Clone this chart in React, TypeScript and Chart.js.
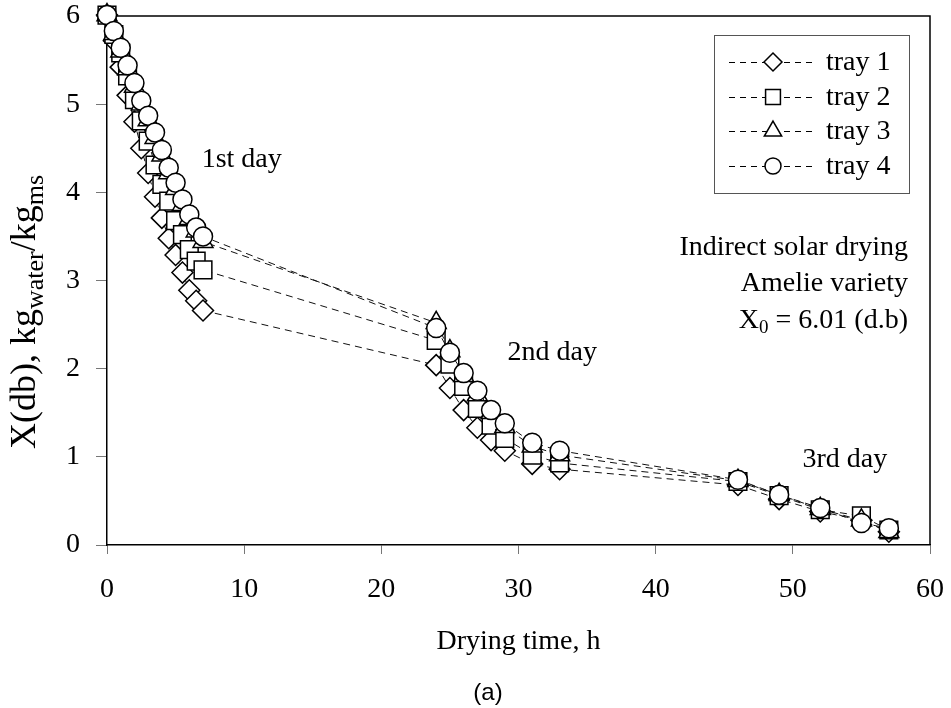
import React, { useEffect, useRef } from 'react';
import { Chart, registerables } from 'chart.js';

Chart.register(...registerables);

// ---- data ----
const times = [
  0, 0.5, 1, 1.5, 2, 2.5, 3, 3.5, 4, 4.5, 5, 5.5, 6, 6.5, 7,
  24, 25, 26, 27, 28, 29, 31, 33,
  46, 49, 52, 55, 57,
];
const tray1 = [
  6.01, 5.72, 5.42, 5.1, 4.8, 4.5, 4.22, 3.95, 3.71, 3.48, 3.29, 3.09, 2.89, 2.77, 2.66,
  2.04, 1.78, 1.53, 1.33, 1.19, 1.07, 0.92, 0.86,
  0.68, 0.52, 0.38, 0.28, 0.15,
];
const tray2 = [
  6.01, 5.79, 5.58, 5.32, 5.05, 4.81, 4.58, 4.31, 4.09, 3.9, 3.68, 3.52, 3.35, 3.22, 3.12,
  2.32, 2.05, 1.8, 1.55, 1.36, 1.21, 1.02, 0.93,
  0.72, 0.56, 0.4, 0.33, 0.17,
];
const tray3 = [
  6.01, 5.8, 5.6, 5.4, 5.2, 5.0, 4.82, 4.62, 4.42, 4.22, 4.04, 3.86, 3.7, 3.56, 3.44,
  2.52, 2.2, 1.92, 1.7, 1.5, 1.34, 1.12, 1.02,
  0.73, 0.57, 0.41, 0.28, 0.15,
];
const tray4 = [
  6.01, 5.83, 5.64, 5.44, 5.24, 5.04, 4.87, 4.68, 4.48, 4.28, 4.11, 3.92, 3.75, 3.6, 3.5,
  2.46, 2.18, 1.95, 1.75, 1.53, 1.38, 1.16, 1.07,
  0.74, 0.57, 0.42, 0.25, 0.19,
];
const seriesNames = ['tray 1', 'tray 2', 'tray 3', 'tray 4'];
const xTickStep = 10;
const yTickStep = 1;
const xRange = [0, 60];
const yRange = [0, 6];

const W = 951;
const H = 708;
const SERIF = '"Liberation Serif", "Times New Roman", serif';
const SANS = '"Liberation Sans", Arial, sans-serif';

const styles = ['rectRot', 'rect', 'triangle', 'circle'] as const;
const radii = [10.5, 12.5, 11.5, 9.5];
const legendRadii = [9, 10.5, 10, 8];

function drawShape(ctx: CanvasRenderingContext2D, style: string, x: number, y: number, r: number) {
  ctx.beginPath();
  if (style === 'circle') {
    ctx.arc(x, y, r, 0, Math.PI * 2);
  } else if (style === 'rect') {
    const s = r * Math.SQRT1_2;
    ctx.rect(x - s, y - s, 2 * s, 2 * s);
  } else if (style === 'rectRot') {
    ctx.moveTo(x - r, y);
    ctx.lineTo(x, y - r);
    ctx.lineTo(x + r, y);
    ctx.lineTo(x, y + r);
    ctx.closePath();
  } else if (style === 'triangle') {
    for (let k = 0; k < 3; k++) {
      const a = (k * 2 * Math.PI) / 3;
      const px = x + Math.sin(a) * r;
      const py = y - Math.cos(a) * r;
      if (k === 0) ctx.moveTo(px, py);
      else ctx.lineTo(px, py);
    }
    ctx.closePath();
  }
  ctx.fillStyle = '#fff';
  ctx.fill();
  ctx.lineWidth = 1.5;
  ctx.strokeStyle = '#000';
  ctx.setLineDash([]);
  ctx.stroke();
}

const annotations = {
  id: 'annotations',
  beforeDatasetsDraw(chart: any) {
    const ctx: CanvasRenderingContext2D = chart.ctx;
    const { left, top, right, bottom } = chart.chartArea;
    ctx.save();
    ctx.strokeStyle = '#000';
    ctx.lineWidth = 1.5;
    ctx.beginPath();
    ctx.moveTo(left, top);
    ctx.lineTo(right, top);
    ctx.lineTo(right, bottom);
    ctx.stroke();
    ctx.restore();
  },
  afterDraw(chart: any) {
    const ctx: CanvasRenderingContext2D = chart.ctx;
    const { right } = chart.chartArea;
    const xs = chart.scales.x;
    const ys = chart.scales.y;
    ctx.save();

    // day labels
    ctx.fillStyle = '#000';
    ctx.font = `28px ${SERIF}`;
    ctx.textBaseline = 'middle';
    ctx.textAlign = 'left';
    ctx.fillText('1st day', xs.getPixelForValue(6.9), ys.getPixelForValue(4.37));
    ctx.fillText('2nd day', xs.getPixelForValue(29.2), ys.getPixelForValue(2.18));
    ctx.fillText('3rd day', xs.getPixelForValue(50.7), ys.getPixelForValue(0.965));

    // info text (right aligned)
    ctx.textAlign = 'right';
    const rx = right - 22;
    ctx.fillText('Indirect solar drying', rx, 248);
    ctx.fillText('Amelie variety', rx, 284);
    const rest = ' = 6.01 (d.b)';
    const restW = ctx.measureText(rest).width;
    ctx.fillText(rest, rx, 321);
    ctx.font = `19px ${SERIF}`;
    const subW = ctx.measureText('0').width;
    ctx.fillText('0', rx - restW, 328);
    ctx.font = `28px ${SERIF}`;
    ctx.fillText('X', rx - restW - subW, 321);

    // legend
    const lx0 = 714, ly0 = 35, lx1 = 909, ly1 = 193;
    ctx.fillStyle = '#fff';
    ctx.fillRect(lx0, ly0, lx1 - lx0, ly1 - ly0);
    ctx.strokeStyle = '#555';
    ctx.lineWidth = 1;
    ctx.strokeRect(lx0 + 0.5, ly0 + 0.5, lx1 - lx0, ly1 - ly0);
    const rows = [62, 97, 131, 166];
    seriesNames.forEach((name, i) => {
      const y = rows[i];
      ctx.strokeStyle = '#000';
      ctx.lineWidth = 1;
      ctx.setLineDash([6, 5]);
      ctx.beginPath();
      ctx.moveTo(729, y + 0.5);
      ctx.lineTo(816, y + 0.5);
      ctx.stroke();
      ctx.setLineDash([]);
      drawShape(ctx, styles[i], 773, y, legendRadii[i]);
      ctx.fillStyle = '#000';
      ctx.font = `28px ${SERIF}`;
      ctx.textAlign = 'left';
      ctx.textBaseline = 'middle';
      ctx.fillText(name, 826, y + 1);
    });

    // y axis title with subscripts
    ctx.save();
    ctx.translate(24, 312);
    ctx.rotate(-Math.PI / 2);
    const parts: [string, number, number][] = [
      ['X(db), kg', 36, 0],
      ['water', 26, 8],
      ['/kg', 36, 0],
      ['ms', 26, 8],
    ];
    let total = 0;
    const widths = parts.map(([t, s]) => {
      ctx.font = `${s}px ${SERIF}`;
      const w = ctx.measureText(t).width;
      total += w;
      return w;
    });
    let cx = -total / 2;
    ctx.textAlign = 'left';
    ctx.textBaseline = 'alphabetic';
    ctx.fillStyle = '#000';
    parts.forEach(([t, s, dy], k) => {
      ctx.font = `${s}px ${SERIF}`;
      ctx.fillText(t, cx, 11 + dy);
      cx += widths[k];
    });
    ctx.restore();

    // caption
    ctx.font = `24px ${SANS}`;
    ctx.textAlign = 'center';
    ctx.textBaseline = 'middle';
    ctx.fillStyle = '#000';
    ctx.fillText('(a)', 488, 693);

    ctx.restore();
  },
};

export default function App() {
  const ref = useRef<HTMLCanvasElement>(null);
  useEffect(() => {
    const canvas = ref.current!;
    const trays = [tray1, tray2, tray3, tray4];
    const datasets = trays.map((vals, i) => ({
      label: seriesNames[i],
      data: times.map((t, j) => ({ x: t, y: vals[j] })),
      showLine: true,
      clip: false,
      borderColor: '#111',
      borderWidth: 1,
      borderDash: [7, 5],
      pointStyle: styles[i],
      pointRadius: radii[i],
      pointHoverRadius: radii[i],
      pointBackgroundColor: '#fff',
      pointBorderColor: '#000',
      pointBorderWidth: 1.5,
      order: 4 - i,
    }));
    const chart = new Chart(canvas, {
      type: 'scatter',
      data: { datasets },
      options: {
        animation: false,
        responsive: false,
        devicePixelRatio: 1,
        events: [],
        layout: { padding: { left: 0, right: 21, top: 16, bottom: 0 } },
        plugins: { legend: { display: false }, tooltip: { enabled: false } },
        scales: {
          x: {
            type: 'linear',
            min: xRange[0],
            max: xRange[1],
            ticks: {
              stepSize: xTickStep,
              color: '#000',
              font: { family: SERIF, size: 28 },
              padding: 19,
              maxRotation: 0,
              autoSkip: false,
            },
            grid: { display: true, drawOnChartArea: false, drawTicks: true, tickLength: 9, color: '#777', lineWidth: 1 },
            border: { display: true, color: '#000', width: 1.5 },
            title: {
              display: true,
              text: 'Drying time, h',
              color: '#000',
              font: { family: SERIF, size: 28 },
              padding: { top: 0, bottom: 50 },
            },
            afterFit: (s: any) => {
              s.height = 163;
              s.paddingLeft = 0;
              s.paddingRight = 0;
            },
          },
          y: {
            type: 'linear',
            min: yRange[0],
            max: yRange[1],
            ticks: {
              stepSize: yTickStep,
              color: '#000',
              font: { family: SERIF, size: 28 },
              padding: 16,
              includeBounds: false,
            },
            grid: { display: true, drawOnChartArea: false, drawTicks: true, tickLength: 11, color: '#777', lineWidth: 1 },
            border: { display: true, color: '#000', width: 1.5 },
            afterFit: (s: any) => {
              s.width = 107;
              s.paddingTop = 0;
              s.paddingBottom = 0;
            },
          },
        },
      },
      plugins: [annotations],
    } as any);
    return () => chart.destroy();
  }, []);
  return (
    <div style={{ position: 'fixed', left: 0, top: 0, width: W, height: H, background: '#fff' }}>
      <canvas ref={ref} width={W} height={H} style={{ display: 'block', width: W, height: H }} />
    </div>
  );
}
